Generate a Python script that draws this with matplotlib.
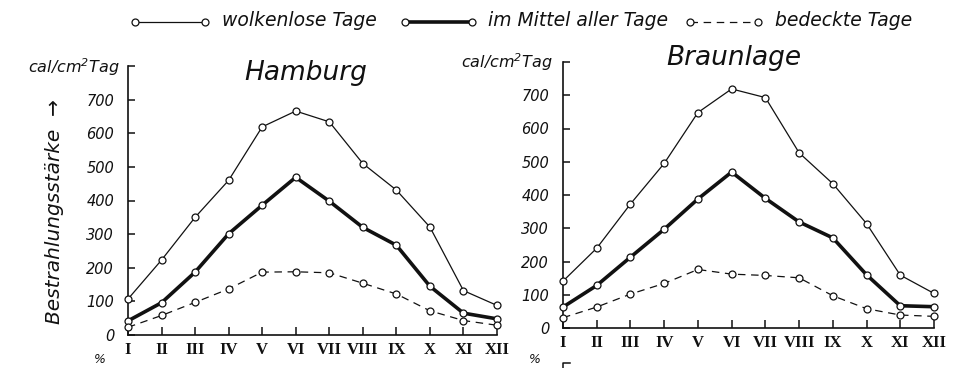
import matplotlib
matplotlib.use('Agg')
import matplotlib.pyplot as plt
from matplotlib.lines import Line2D

# ---------------- data ----------------
months = ['I', 'II', 'III', 'IV', 'V', 'VI', 'VII', 'VIII', 'IX', 'X', 'XI', 'XII']
y_ticks = [0, 100, 200, 300, 400, 500, 600, 700, 800]
y_tick_labels = ['0', '100', '200', '300', '400', '500', '600', '700', '']

hamburg_wolkenlos = [107, 223, 350, 460, 619, 666, 634, 510, 431, 321, 132, 88]
hamburg_mittel = [42, 96, 187, 301, 386, 469, 398, 320, 267, 145, 65, 48]
hamburg_bedeckt = [23, 58, 97, 137, 187, 188, 185, 154, 122, 72, 43, 29]

braunlage_wolkenlos = [141, 240, 373, 495, 648, 719, 693, 527, 434, 314, 159, 104]
braunlage_mittel = [63, 128, 213, 297, 388, 469, 390, 319, 271, 160, 67, 64]
braunlage_bedeckt = [31, 63, 102, 134, 176, 162, 158, 151, 97, 58, 39, 35]

legend_labels = ['wolkenlose Tage', 'im Mittel aller Tage', 'bedeckte Tage']

# ---------------- figure ----------------
W, H = 976, 368
fig = plt.figure(figsize=(W / 100, H / 100), dpi=100)
fig.patch.set_facecolor('white')
INK = '#111111'


def fx(x):
    return x / W


def fy(y):
    return 1 - y / H


styles = [
    dict(lw=0.9, ls='-'),
    dict(lw=2.6, ls='-'),
    dict(lw=0.9, ls=(0, (6, 4.5))),
]
marker_kw = dict(marker='o', markersize=5, markerfacecolor='white',
                 markeredgecolor=INK, markeredgewidth=0.9)

ITALIC = dict(family='DejaVu Sans', style='italic', color=INK)
ROMAN = dict(family='Liberation Serif', weight='bold', color=INK)


def make_axes(rect, series):
    ax = fig.add_axes(rect)
    x = list(range(len(months)))
    for vals, st in zip(series, styles):
        ax.plot(x, vals, color=INK, lw=st['lw'], linestyle=st['ls'],
                clip_on=False, zorder=3, **marker_kw)
    ax.set_xlim(0, len(months) - 1)
    ax.set_ylim(0, 800)
    ax.set_xticks(x)
    ax.set_xticklabels(months, fontsize=12, **ROMAN)
    ax.set_yticks(y_ticks)
    ax.set_yticklabels(y_tick_labels, fontsize=10.5, **ITALIC)
    for s in ['top', 'right']:
        ax.spines[s].set_visible(False)
    for s in ['left', 'bottom']:
        ax.spines[s].set_linewidth(1.2)
        ax.spines[s].set_color(INK)
    ax.tick_params(axis='x', direction='in', length=6, width=1.1, pad=5, colors=INK)
    ax.tick_params(axis='y', direction='in', length=5, width=1.1, pad=10, colors=INK)
    ax.set_facecolor('none')
    return ax


ax1 = make_axes([fx(128), 1 - 335 / H, (497 - 128) / W, (335 - 66) / H],
                [hamburg_wolkenlos, hamburg_mittel, hamburg_bedeckt])
ax2 = make_axes([fx(563), 1 - 328 / H, (934 - 563) / W, (328 - 62) / H],
                [braunlage_wolkenlos, braunlage_mittel, braunlage_bedeckt])

# titles
fig.text(fx(306), fy(73), 'Hamburg', ha='center', va='center', fontsize=19, **ITALIC)
fig.text(fx(734), fy(58), 'Braunlage', ha='center', va='center', fontsize=19, **ITALIC)

# unit labels
fig.text(fx(120), fy(67), 'cal/cm$^{\\mathregular{2}}$Tag', ha='right', va='center',
         fontsize=11.5, **ITALIC)
fig.text(fx(553), fy(62), 'cal/cm$^{\\mathregular{2}}$Tag', ha='right', va='center',
         fontsize=11.5, **ITALIC)

# y axis label
fig.text(fx(55), fy(212), 'Bestrahlungsstärke  →', rotation=90, ha='center', va='center',
         fontsize=14.5, **ITALIC)

# legend (manual, centred at top)
leg_items = [(135, 205, 222), (405, 472, 488), (690, 758, 775)]
for (x0, x1, xt), lab, st in zip(leg_items, legend_labels, styles):
    fig.add_artist(Line2D([fx(x0), fx(x1)], [fy(22), fy(22)], transform=fig.transFigure,
                          color=INK, lw=st['lw'], linestyle=st['ls'], **marker_kw))
    fig.text(fx(xt), fy(21), lab, ha='left', va='center', fontsize=13.5, **ITALIC)

# fragments of the following chart at the bottom edge
fig.text(fx(100), fy(366), '%', ha='center', va='bottom', fontsize=9, **ITALIC)
fig.text(fx(535), fy(366), '%', ha='center', va='bottom', fontsize=9, **ITALIC)
fig.add_artist(Line2D([fx(563), fx(563), fx(570)], [fy(370), fy(363), fy(363)],
                      transform=fig.transFigure, color=INK, lw=1.1))

fig.savefig('out.png', dpi=100, facecolor='white')
